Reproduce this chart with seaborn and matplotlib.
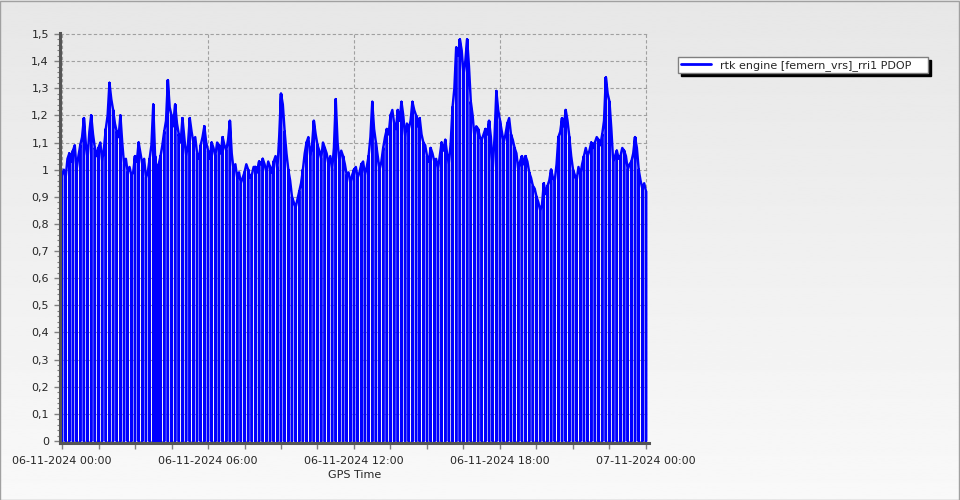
import numpy as np
import pandas as pd
import matplotlib
matplotlib.use("Agg")
import matplotlib.pyplot as plt
from matplotlib.ticker import MultipleLocator, FixedLocator, FixedFormatter
from matplotlib.patches import Rectangle
import seaborn as sns

# ---------------- data ----------------
series_label = "rtk engine [femern_vrs]_rri1 PDOP"
epoch_minutes = 9  # logging epoch of the PDOP records
# PDOP at the start of each epoch
pdop = [
    0.98, 0.97, 1.06, 1.07, 1.00, 1.09, 1.19, 1.04, 1.20, 1.08,
    1.08, 1.03, 1.15, 1.32, 1.22, 1.14, 1.20, 1.02, 0.99, 0.98,
    1.05, 1.10, 1.02, 0.97, 1.04, 1.24, 0.98, 1.05, 1.14, 1.33,
    1.20, 1.24, 1.13, 1.19, 1.05, 1.19, 1.10, 1.06, 1.09, 1.16,
    1.07, 1.10, 1.05, 1.09, 1.12, 1.07, 1.18, 1.00, 0.97, 0.95,
    0.99, 1.00, 0.98, 1.01, 1.03, 1.04, 0.99, 1.01, 1.03, 1.00,
    1.28, 1.14, 1.00, 0.90, 0.86, 0.92, 1.00, 1.10, 1.05, 1.18,
    1.09, 1.04, 1.08, 1.02, 1.00, 1.26, 1.03, 1.05, 0.98, 0.95,
    1.00, 0.97, 1.02, 0.98, 1.05, 1.25, 1.10, 1.00, 1.08, 1.15,
    1.20, 1.17, 1.22, 1.25, 1.12, 1.15, 1.25, 1.20, 1.19, 1.10,
    1.05, 1.08, 1.03, 1.00, 1.10, 1.11, 1.02, 1.23, 1.45, 1.48,
    1.35, 1.48, 1.25, 1.12, 1.15, 1.11, 1.15, 1.18, 1.00, 1.29,
    1.18, 1.10, 1.17, 1.13, 1.08, 1.00, 1.05, 1.05, 0.99, 0.94,
    0.90, 0.85, 0.95, 0.94, 1.00, 0.96, 1.12, 1.19, 1.22, 1.12,
    1.00, 0.96, 0.98, 1.05, 1.05, 1.10, 1.10, 1.11, 1.13, 1.34,
    1.25, 1.03, 1.07, 1.05, 1.07, 1.00, 1.03, 1.12, 1.00, 0.93,
    0.92,
]
# PDOP in the middle of each epoch
pdop_mid = [
    1.00, 1.04, 1.03, 1.09, 1.05, 1.12, 1.10, 1.14, 1.13, 1.05,
    1.10, 1.08, 1.20, 1.26, 1.17, 1.12, 1.10, 1.04, 1.01, 0.99,
    1.03, 1.06, 1.04, 0.99, 1.09, 1.05, 1.02, 1.09, 1.18, 1.23,
    1.16, 1.17, 1.10, 1.12, 1.09, 1.14, 1.12, 1.04, 1.12, 1.10,
    1.04, 1.08, 1.10, 1.06, 1.09, 1.11, 1.06, 1.02, 0.99, 0.97,
    1.02, 0.97, 1.01, 0.99, 1.02, 1.02, 1.03, 0.99, 1.05, 1.12,
    1.24, 1.06, 0.96, 0.88, 0.89, 0.95, 1.06, 1.12, 1.09, 1.13,
    1.07, 1.10, 1.06, 1.05, 1.08, 1.10, 1.07, 1.02, 0.99, 0.98,
    1.01, 0.99, 1.03, 1.01, 1.12, 1.15, 1.05, 1.03, 1.12, 1.13,
    1.22, 1.15, 1.18, 1.20, 1.17, 1.18, 1.22, 1.16, 1.13, 1.09,
    1.03, 1.06, 1.04, 1.05, 1.07, 1.06, 1.10, 1.30, 1.42, 1.44,
    1.40, 1.38, 1.20, 1.16, 1.12, 1.13, 1.13, 1.12, 1.12, 1.22,
    1.14, 1.13, 1.19, 1.11, 1.06, 1.03, 1.02, 1.03, 0.97, 0.93,
    0.88, 0.87, 0.91, 0.96, 0.97, 1.02, 1.14, 1.16, 1.18, 1.05,
    0.98, 1.01, 1.02, 1.08, 1.07, 1.08, 1.12, 1.09, 1.18, 1.28,
    1.15, 1.05, 1.04, 1.08, 1.05, 1.02, 1.06, 1.08, 0.96, 0.95,
]
outage_value = 0.0             # PDOP logged as 0 at every epoch change
extra_outage_epochs = [25, 26]  # epochs with a second zero record mid-epoch

x_tick_hours = [0, 6, 12, 18, 24]
x_tick_labels = ["06-11-2024 00:00", "06-11-2024 06:00", "06-11-2024 12:00",
                 "06-11-2024 18:00", "07-11-2024 00:00"]
y_tick_values = [0.0, 0.1, 0.2, 0.3, 0.4, 0.5, 0.6, 0.7, 0.8, 0.9,
                 1.0, 1.1, 1.2, 1.3, 1.4, 1.5]
y_tick_labels = ["0", "0,1", "0,2", "0,3", "0,4", "0,5", "0,6", "0,7", "0,8",
                 "0,9", "1", "1,1", "1,2", "1,3", "1,4", "1,5"]
x_label = "GPS Time"

# build the record table
rows_t, rows_v = [], []
for k, v in enumerate(pdop):
    t = k * epoch_minutes / 60.0
    rows_t += [t, t, t]
    rows_v += [v, outage_value, v]
    if k < len(pdop_mid):
        tm = t + epoch_minutes / 120.0
        if k in extra_outage_epochs:
            rows_t += [tm, tm, tm]
            rows_v += [pdop_mid[k], outage_value, pdop_mid[k]]
        else:
            rows_t.append(tm)
            rows_v.append(pdop_mid[k])
df = pd.DataFrame({"hours": rows_t, "pdop": rows_v})

# ---------------- figure ----------------
sns.set_theme(style="white")
plt.rcParams["font.family"] = ["DejaVu Sans"]
plt.rcParams["font.size"] = 8

fig = plt.figure(figsize=(9.6, 5.0), dpi=100)

# gradient background
bg = fig.add_axes([0, 0, 1, 1], zorder=-10)
grad = np.linspace(0.905, 0.975, 256).reshape(-1, 1)
bg.imshow(grad, aspect="auto", cmap="gray", vmin=0, vmax=1,
          extent=[0, 1, 0, 1], origin="upper")
bg.set_axis_off()
fig.patches.append(Rectangle((0.0005, 0.001), 0.998, 0.997, transform=fig.transFigure,
                             fill=False, edgecolor="#a0a0a0", lw=1.0))

ax = fig.add_axes([60 / 960, 57 / 500, 589 / 960, 410 / 500])
ax.set_facecolor("none")

sns.lineplot(data=df, x="hours", y="pdop", estimator=None, sort=False,
             color="#0000ff", lw=1.75, ax=ax, label=series_label)

ax.set_xlim(-2 / 24.333, 24 + 3 / 24.333)
ax.set_ylim(-2 / 272, 1.5 + 1 / 272)

ax.xaxis.set_major_locator(FixedLocator(x_tick_hours))
ax.xaxis.set_major_formatter(FixedFormatter(x_tick_labels))
ax.xaxis.set_minor_locator(MultipleLocator(1.5))
ax.yaxis.set_major_locator(FixedLocator(y_tick_values))
ax.yaxis.set_major_formatter(FixedFormatter(y_tick_labels))
ax.yaxis.set_minor_locator(MultipleLocator(0.02))

ax.grid(True, which="major", linestyle=(0, (3, 2)), color="#a0a0a0", lw=0.8)
ax.set_axisbelow(True)

for s in ["top", "right"]:
    ax.spines[s].set_visible(False)
for s in ["left", "bottom"]:
    ax.spines[s].set_color("#555555")
    ax.spines[s].set_linewidth(2.2)

ax.tick_params(axis="x", which="both", direction="out", length=4, width=1,
               color="#808080", labelsize=8, pad=5, bottom=True)
ax.tick_params(axis="y", which="major", direction="out", length=4, width=1,
               color="#808080", labelsize=8, pad=4, left=True)
ax.tick_params(axis="y", which="minor", direction="out", length=2, width=0.8,
               color="#808080", left=True)

ax.set_xlabel(x_label, fontsize=8, labelpad=3)
ax.set_ylabel("")

handles, labels = ax.get_legend_handles_labels()
ax.get_legend().remove()
leg = fig.legend(handles, labels, loc="upper left", mode="expand",
                 bbox_to_anchor=(678 / 960, 1 - 74 / 500, 250 / 960, 17 / 500),
                 fontsize=8, frameon=True, fancybox=False,
                 shadow={"color": "black", "alpha": 1.0},
                 handlelength=2.7, handletextpad=0.8, borderpad=0.25,
                 borderaxespad=0)
leg.get_frame().set_edgecolor("#808080")
leg.get_frame().set_facecolor("white")
leg.get_frame().set_linewidth(1.0)
for h in leg.get_lines():
    h.set_linewidth(2.0)

fig.savefig("out.png", dpi=100)
